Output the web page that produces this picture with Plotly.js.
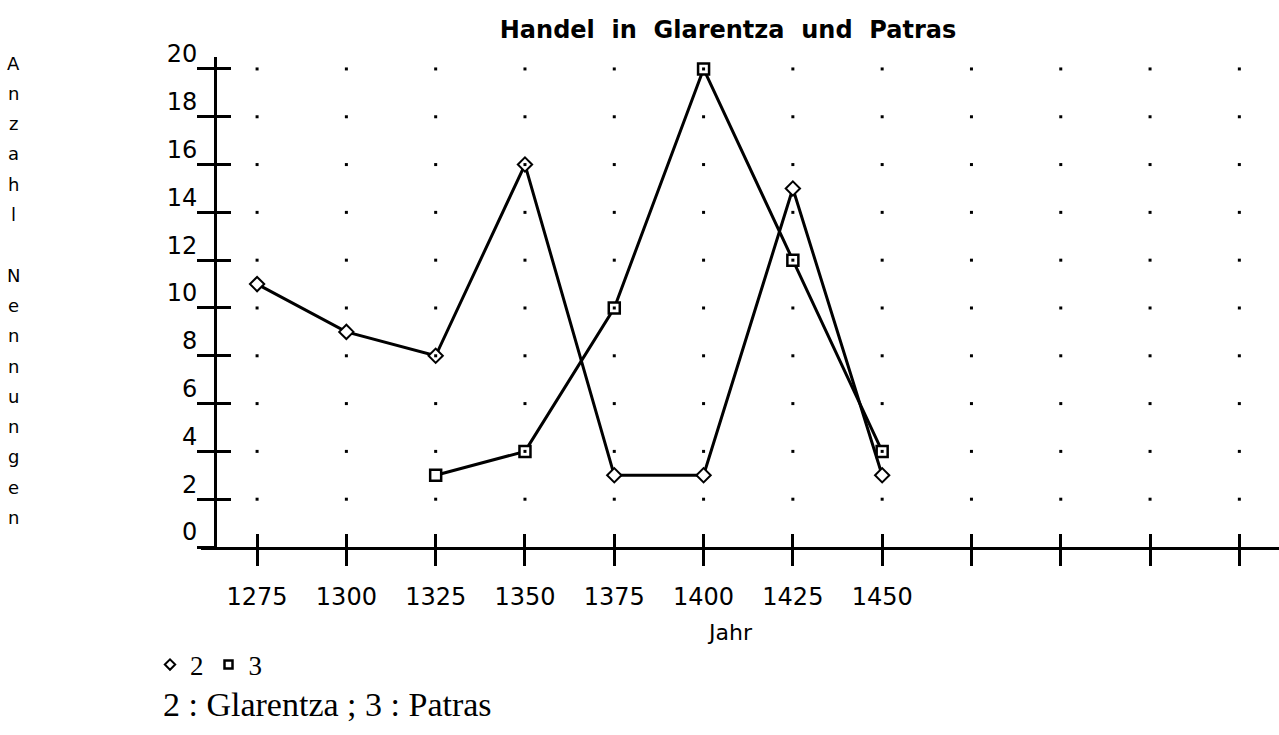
<!DOCTYPE html>
<html><head><meta charset="utf-8">
<script src="https://cdn.plot.ly/plotly-3.0.1.min.js"></script>
<style>html,body{margin:0;padding:0;background:#fff}#chart{width:1279px;height:735px}</style>
</head><body><div id="chart"></div>
<script>
// ---- data ----
const years = [1275, 1300, 1325, 1350, 1375, 1400, 1425, 1450];
const glarentza = [11, 9, 8, 16, 3, 3, 15, 3];
const patras = [null, null, 3, 4, 10, 20, 12, 4];
const xTickVals = [1275, 1300, 1325, 1350, 1375, 1400, 1425, 1450, 1475, 1500, 1525, 1550];
const xTickText = ['1275', '1300', '1325', '1350', '1375', '1400', '1425', '1450', '', '', '', ''];
const yTickVals = [0, 2, 4, 6, 8, 10, 12, 14, 16, 18, 20];
const yTickText = ['0', '2', '4', '6', '8', '10', '12', '14', '16', '18', '20'];
const title = 'Handel in Glarentza und Patras';
const xTitle = 'Jahr';
const yTitle = 'Anzahl Nennungen';
const seriesNames = ['2', '3'];
const note = '2 : Glarentza ; 3 : Patras';

// grid dots at every tick crossing (excluding the zero line)
const gx = [], gy = [];
xTickVals.forEach(x => yTickVals.filter(v => v > 0).forEach(y => { gx.push(x); gy.push(y); }));

const traces = [
  {x: gx, y: gy, xaxis: 'x2', yaxis: 'y2', mode: 'markers', type: 'scatter', showlegend: false,
   hoverinfo: 'skip', marker: {size: 3, color: '#000', symbol: 'square'}},
  {x: years, y: glarentza, mode: 'lines+markers', type: 'scatter', showlegend: false, connectgaps: false,
   line: {color: '#000', width: 3},
   marker: {symbol: 'diamond', size: 11, color: '#fff', line: {color: '#000', width: 2}}},
  {x: years, y: patras, mode: 'lines+markers', type: 'scatter', showlegend: false, connectgaps: false,
   line: {color: '#000', width: 3},
   marker: {symbol: 'square', size: 11, color: '#fff', line: {color: '#000', width: 2.5}}},
  {x: [null], y: [null], mode: 'markers', type: 'scatter', name: seriesNames[0],
   marker: {symbol: 'diamond', size: 8, color: '#fff', line: {color: '#000', width: 2}}},
  {x: [null], y: [null], mode: 'markers', type: 'scatter', name: seriesNames[1],
   marker: {symbol: 'square', size: 8, color: '#fff', line: {color: '#000', width: 2.5}}}
];

const xr = [1259.3, 1561.1];
const yr = [0, 20.5];
const ypos = 0.013;

const annotations = [];
// stacked vertical y-axis title
const letters = yTitle.split('');
letters.forEach((ch, i) => {
  if (ch === ' ') return;
  annotations.push({text: ch, xref: 'paper', yref: 'paper', x: (13 - 201) / 1078, y: (547 - (63 + 30.3 * i)) / 490,
    xanchor: 'center', yanchor: 'middle', showarrow: false,
    font: {family: 'DejaVu Sans', size: 18, color: '#000'}});
});
annotations.push({text: xTitle, xref: 'paper', yref: 'paper', x: (730 - 201) / 1078, y: (547 - 632) / 490,
  xanchor: 'center', yanchor: 'middle', showarrow: false, font: {family: 'DejaVu Sans', size: 22, color: '#000'}});
annotations.push({text: note, xref: 'paper', yref: 'paper', x: (161 - 201) / 1078, y: (547 - 704) / 490,
  xanchor: 'left', yanchor: 'middle', showarrow: false, font: {family: 'Liberation Serif', size: 34, color: '#000'}});

const layout = {
  width: 1279, height: 735,
  margin: {l: 201, r: 0, t: 57, b: 188},
  paper_bgcolor: '#fff', plot_bgcolor: '#fff',
  title: {text: title.split(' ').join('\u00a0\u00a0'), font: {family: 'DejaVu Sans', size: 24, weight: 'bold', color: '#000'},
    x: 728 / 1279, xref: 'container', xanchor: 'center', y: 1 - 30 / 735, yref: 'container', yanchor: 'middle'},
  showlegend: true,
  legend: {orientation: 'h', x: (150 - 201) / 1078, y: (547 - 665) / 490, xanchor: 'left', yanchor: 'middle',
    font: {family: 'Liberation Serif', size: 27, color: '#000'}, itemwidth: 30, tracegroupgap: 0,
    bgcolor: 'rgba(0,0,0,0)'},
  xaxis: {range: xr, tickmode: 'array', tickvals: xTickVals, ticktext: xTickText, ticks: 'outside', ticklen: 16,
    tickwidth: 3, tickcolor: '#000', showline: true, linecolor: '#000', linewidth: 3, showgrid: false,
    zeroline: false, tickfont: {family: 'DejaVu Sans', size: 24, color: '#000'}, anchor: 'y', ticklabelstandoff: 10},
  xaxis2: {range: xr, overlaying: 'x', anchor: 'y2', tickmode: 'array', tickvals: xTickVals, ticks: 'inside', ticklen: 13,
    tickwidth: 3, tickcolor: '#000', showticklabels: false, showline: false, showgrid: false, zeroline: false},
  yaxis: {range: yr, tickmode: 'array', tickvals: yTickVals, ticktext: yTickText, ticks: 'outside', ticklen: 17,
    tickwidth: 3, tickcolor: '#000', showline: true, linecolor: '#000', linewidth: 3, showgrid: false,
    zeroline: false, tickfont: {family: 'DejaVu Sans', size: 24, color: '#000'}, anchor: 'free', position: ypos,
    ticklabelshift: -15, ticklabelstandoff: -5},
  yaxis2: {range: yr, overlaying: 'y', anchor: 'free', position: ypos, tickmode: 'array', tickvals: yTickVals, ticks: 'inside',
    ticklen: 15, tickwidth: 3, tickcolor: '#000', showticklabels: false, showline: false, showgrid: false, zeroline: false},
  annotations: annotations
};

Plotly.newPlot('chart', traces, layout, {displayModeBar: false, staticPlot: true});
</script></body></html>
